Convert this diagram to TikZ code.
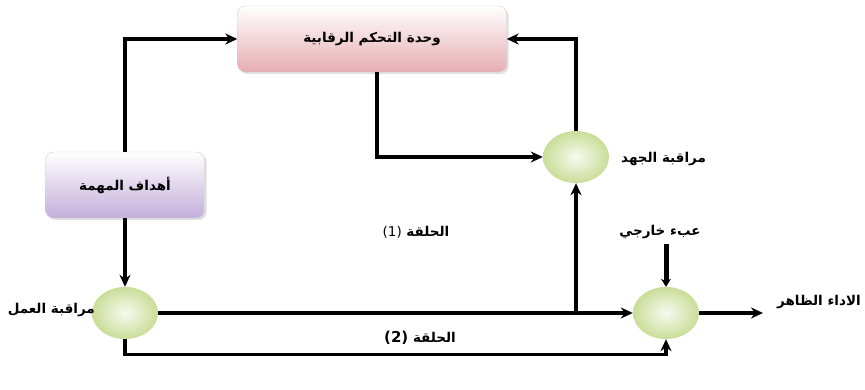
\documentclass[tikz,border=0pt]{standalone}
\usepackage{fontspec}
\newfontfamily\arabicfont[Script=Arabic]{DejaVu Sans}
\TeXXeTstate=1
\usetikzlibrary{arrows.meta,shapes.geometric,shadows}
\definecolor{boxpink}{HTML}{E6ADB3}
\definecolor{boxlilac}{HTML}{C4AEDB}
\definecolor{mongreen}{HTML}{CADD98}
\tikzset{
  conn/.style={line width=3.3pt,-{Stealth[length=12pt,width=11pt]}},
  ctrlbox/.style={rounded corners=8pt,top color=white,bottom color=boxpink,
    draw=gray!35,minimum width=269pt,minimum height=66pt,
    drop shadow={opacity=0.25,shadow xshift=2pt,shadow yshift=-2pt}},
  goalbox/.style={rounded corners=8pt,top color=white,bottom color=boxlilac,
    draw=gray!35,minimum width=159pt,minimum height=66pt,
    drop shadow={opacity=0.25,shadow xshift=2pt,shadow yshift=-2pt}},
  monitor/.style={ellipse,inner color=white!85!mongreen,outer color=mongreen,
    minimum width=66pt,minimum height=52pt,inner sep=0pt},
  lbl/.style={font=\arabicfont\bfseries\fontsize{13.5}{15}\selectfont,inner sep=1pt}
}
\begin{document}
\begin{tikzpicture}[x=1pt,y=-1pt]
\useasboundingbox[fill=white] (0,0) rectangle (865,390);

% boxes
\node[ctrlbox,lbl] (ctrl) at (372,39) {\beginR وحدة التحكم الرقابية\endR};
\node[goalbox,lbl] (goal) at (125,185) {\beginR أهداف المهمة\endR};

% monitoring points
\node[monitor] (work) at (125,313) {};
\node[monitor] (effort) at (576,157) {};
\node[monitor] (sum) at (666,313) {};

% labels
\node[lbl,anchor=east] (worklbl) at (96,310) {\beginR مراقبة العمل\endR};
\node[lbl,anchor=west] (effortlbl) at (620,159) {\beginR مراقبة الجهد\endR};
\node[lbl] (loadlbl) at (660,232) {\beginR عبء خارجي\endR};
\node[lbl,anchor=west] (outlbl) at (776,302) {\beginR الاداء الظاهر\endR};
\node[lbl] (loop1) at (416,232) {{\mdseries(1)} \beginR الحلقة\endR};
\node[lbl] (loop2) at (420,338) {{\fontsize{15}{17}\selectfont(2)} \beginR الحلقة\endR};

% free ends
\coordinate (branch) at (576,313);
\coordinate (load) at (666,244);
\coordinate (out) at (763,313);

% connectors
\draw[conn] (goal.north) |- (ctrl.west);
\draw[conn] (goal.south) -- (work.north);
\draw[conn] (work.east) -- (sum.west);
\draw[conn] (branch) -- (effort.south);
\draw[conn] (effort.north) |- (ctrl.east);
\draw[conn] ([xshift=5pt]ctrl.south) |- (effort.west);
\draw[conn] (work.south) -- ++(0,15) -| (sum.south);
\draw[conn,line width=5pt,-{Stealth[length=8pt,width=10pt]}] (load) -- (sum.north);
\draw[conn] (sum.east) -- (out);
\end{tikzpicture}
\end{document}
